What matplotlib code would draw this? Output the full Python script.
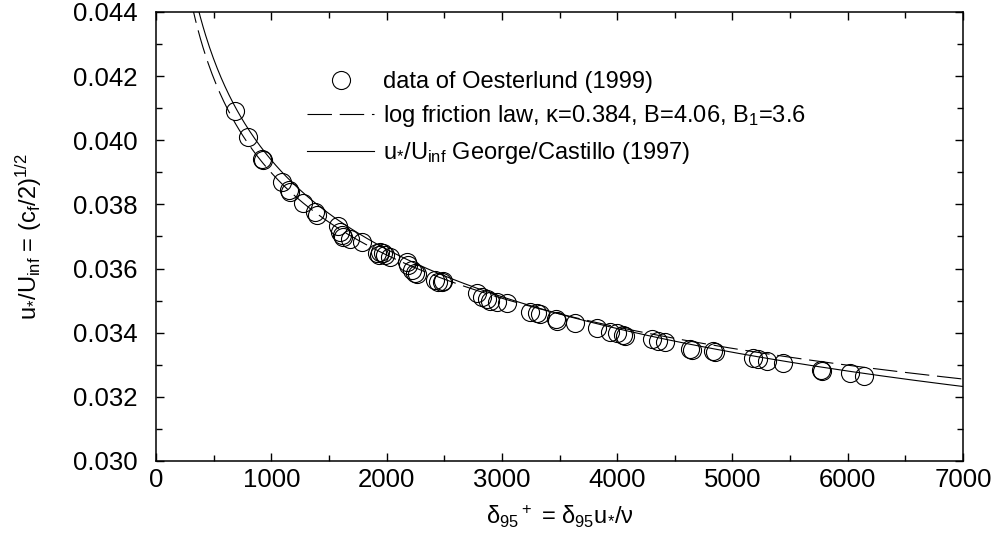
import numpy as np
import matplotlib
matplotlib.use("Agg")
import matplotlib.pyplot as plt

plt.rcParams['font.family'] = ['Liberation Sans', 'DejaVu Sans']
plt.rcParams['mathtext.fontset'] = 'custom'
plt.rcParams['mathtext.rm'] = 'Liberation Sans'
plt.rcParams['mathtext.it'] = 'Liberation Sans:italic'
plt.rcParams['mathtext.default'] = 'regular'

# data of Oesterlund (1999): delta95+ and u*/Uinf
delta_plus = [685, 801, 919, 930, 1090, 1155, 1165, 1278, 1379, 1394,
              1581, 1596, 1611, 1625, 1683, 1784, 1914, 1930, 1943, 1972,
              1986, 2030, 2174, 2189, 2218, 2247, 2260, 2420, 2449, 2478,
              2492, 2781, 2825, 2868, 2897, 2955, 3042, 3244, 3302, 3331,
              3470, 3480, 3634, 3822, 3938, 3996, 4053, 4070, 4299, 4357,
              4415, 4632, 4645, 4834, 4850, 5181, 5224, 5297, 5441, 5770,
              5780, 6020, 6144]
u_ratio = [0.04092, 0.04011, 0.03943, 0.03939, 0.03871, 0.03846, 0.03838, 0.03805, 0.03777, 0.03767,
           0.03733, 0.03715, 0.03705, 0.03700, 0.03692, 0.03684, 0.03648, 0.03642, 0.03653, 0.03648,
           0.03642, 0.03635, 0.03621, 0.03611, 0.03596, 0.03585, 0.03583, 0.03564, 0.03559, 0.03559,
           0.03562, 0.03523, 0.03512, 0.03504, 0.03500, 0.03497, 0.03492, 0.03465, 0.03460, 0.03458,
           0.03442, 0.03438, 0.03431, 0.03416, 0.03403, 0.03398, 0.03393, 0.03390, 0.03379, 0.03375,
           0.03371, 0.03350, 0.03346, 0.03344, 0.03341, 0.03320, 0.03317, 0.03313, 0.03305, 0.03284,
           0.03280, 0.03273, 0.03265]

# log friction law constants
kappa = 0.384
B = 4.06
B1 = 3.6

# George/Castillo type curve, ln(Uinf/u*) = a + b * (ln d+)^p
gc_a = 1.7392
gc_b = 0.5689
gc_p = 0.5

d = np.linspace(250, 7000, 600)
log_law = 1.0 / (np.log(d) / kappa + B + B1)
gc_law = 1.0 / np.exp(gc_a + gc_b * np.log(d) ** gc_p)

fig = plt.figure(figsize=(9.98, 5.42), dpi=100)
ax = fig.add_axes([156 / 998, 1 - 461 / 542, (963 - 156) / 998, (461 - 12) / 542])

ax.plot(delta_plus, u_ratio, 'o', ms=13, mfc='none', mec='black', mew=0.8,
        label='data of Oesterlund (1999)')
ax.plot(d, log_law, color='black', lw=0.8, dashes=(22, 7),
        label=r'log friction law, κ=0.384, B=4.06, B$_1$=3.6')
ax.plot(d, gc_law, color='black', lw=0.8,
        label=r'u$_{{*}}$/U$_{inf}$ George/Castillo (1997)')

ax.set_xlim(0, 7000)
ax.set_ylim(0.030, 0.044)
ax.set_xticks(np.arange(0, 7001, 1000))
ax.set_xticks(np.arange(0, 7001, 500), minor=True)
ax.set_yticks(np.arange(0.030, 0.0441, 0.002))
ax.set_yticks(np.arange(0.030, 0.0441, 0.001), minor=True)
ax.yaxis.set_major_formatter(matplotlib.ticker.FormatStrFormatter('%.3f'))
ax.tick_params(which='both', direction='in', top=True, right=True, labelsize=18.5, width=1)
ax.tick_params(which='major', length=6)
ax.tick_params(which='minor', length=4)
ax.tick_params(axis='y', pad=13)
ax.tick_params(axis='x', pad=5)
for s in ax.spines.values():
    s.set_linewidth(1.1)

ax.set_xlabel(r'δ$_{95}$$^+$ = δ$_{95}$u$_{{*}}$/ν', fontsize=17, labelpad=8)
ax.set_ylabel(r'u$_{{*}}$/U$_{inf}$ = (c$_f$/2)$^{1/2}$', fontsize=17, labelpad=21)

ax.legend(loc='upper left', bbox_to_anchor=(0.176, 0.89), frameon=False, fontsize=17,
          handlelength=2.8, handletextpad=0.4, labelspacing=0.45, borderaxespad=0)

fig.savefig('out.png', dpi=100)
